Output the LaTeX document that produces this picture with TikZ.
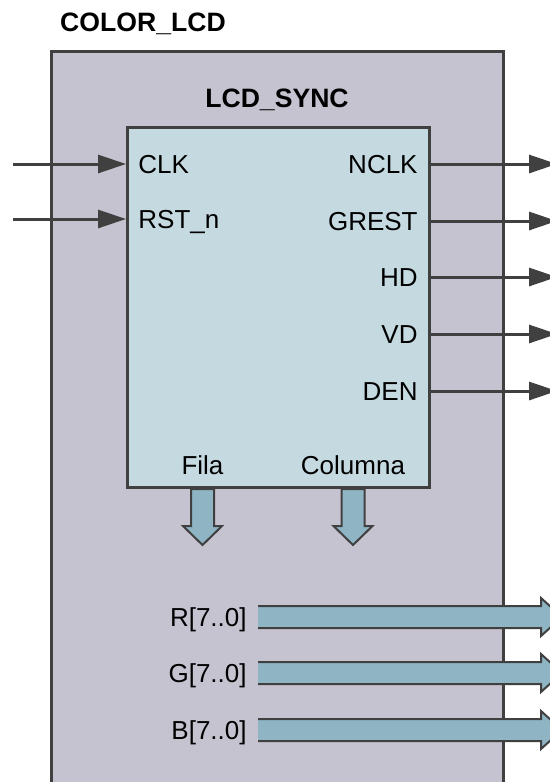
\documentclass[tikz,border=0pt]{standalone}
\usepackage{fontspec}
\setmainfont{Liberation Sans}
\usetikzlibrary{arrows.meta}
\definecolor{outerfill}{HTML}{C6C3D1}
\definecolor{innerfill}{HTML}{C5D9E0}
\definecolor{busfill}{HTML}{8FB5C5}
\definecolor{wire}{HTML}{404040}
\tikzset{
  sig/.style={line width=1.5pt, draw=wire, -{Triangle[length=14pt,width=9pt]}},
  port/.style={font=\fontsize{13}{15}\selectfont, inner ysep=0pt, text height=9.3pt, text depth=0pt},
  title/.style={font=\fontsize{13.3}{15}\selectfont\bfseries},
  bus/.style={fill=busfill, draw=wire, line width=1pt},
}
\begin{document}
\begin{tikzpicture}[x=0.5pt,y=-0.5pt]
\clip (0,0) rectangle (550,782);
\fill[white] (0,0) rectangle (550,782);

% outer block
\draw[fill=outerfill, draw=wire, line width=1.5pt] (51,51) rectangle (503,800);
\node[title] (color_lcd) at (143,24) {COLOR\_LCD};

% sync block
\node[draw=wire, fill=innerfill, line width=1.5pt, inner sep=0pt,
  minimum width=151pt, minimum height=180pt, anchor=north west] (lcd_sync) at (126,126) {};
\node[title] (sync_title) at (277,100) {LCD\_SYNC};

% inputs
\node[port, anchor=west, inner xsep=6pt] (clk) at (126,164) {CLK};
\node[port, anchor=west, inner xsep=6pt] (rst_n) at (126,219) {RST\_n};
\coordinate (clk_in) at (13,164);
\coordinate (rst_in) at (13,219);
\draw[sig] (clk_in) -- (clk.west);
\draw[sig] (rst_in) -- (rst_n.west);

% outputs
\foreach \name/\txt/\y in {nclk/NCLK/164, grest/GREST/221, hd/HD/277, vd/VD/334, den/DEN/391}{
  \node[port, anchor=east, inner xsep=5pt] (\name) at (428,\y) {\txt};
  \coordinate (\name_out) at (557,\y);
  \draw[sig] (\name.east) -- (\name_out);
}

% row / column buses
\node[port] (fila) at (202.5,465) {Fila};
\node[port] (columna) at (353,465) {Columna};
\foreach \name in {fila,columna}{
  \draw[bus, shift={(\name.center |- lcd_sync.south)}]
    (-11.5,0) -- (-11.5,37) -- (-19.5,37) -- (0,56) -- (19.5,37) -- (11.5,37) -- (11.5,0) -- cycle;
}

% colour buses
\foreach \name/\txt/\y in {r/{R[7..0]}/617, g/{G[7..0]}/673, b/{B[7..0]}/730}{
  \node[port, anchor=east, inner xsep=5.5pt] (\name) at (258,\y) {\txt};
  \fill[busfill, shift={(\name.east)}]
    (0,-11) -- (283,-11) -- (283,-19) -- (304,0) -- (283,19) -- (283,11) -- (0,11) -- cycle;
  \draw[wire, line width=1pt, shift={(\name.east)}]
    (0,-11) -- (283,-11) -- (283,-19) -- (304,0) -- (283,19) -- (283,11) -- (0,11);
}
\end{tikzpicture}
\end{document}
